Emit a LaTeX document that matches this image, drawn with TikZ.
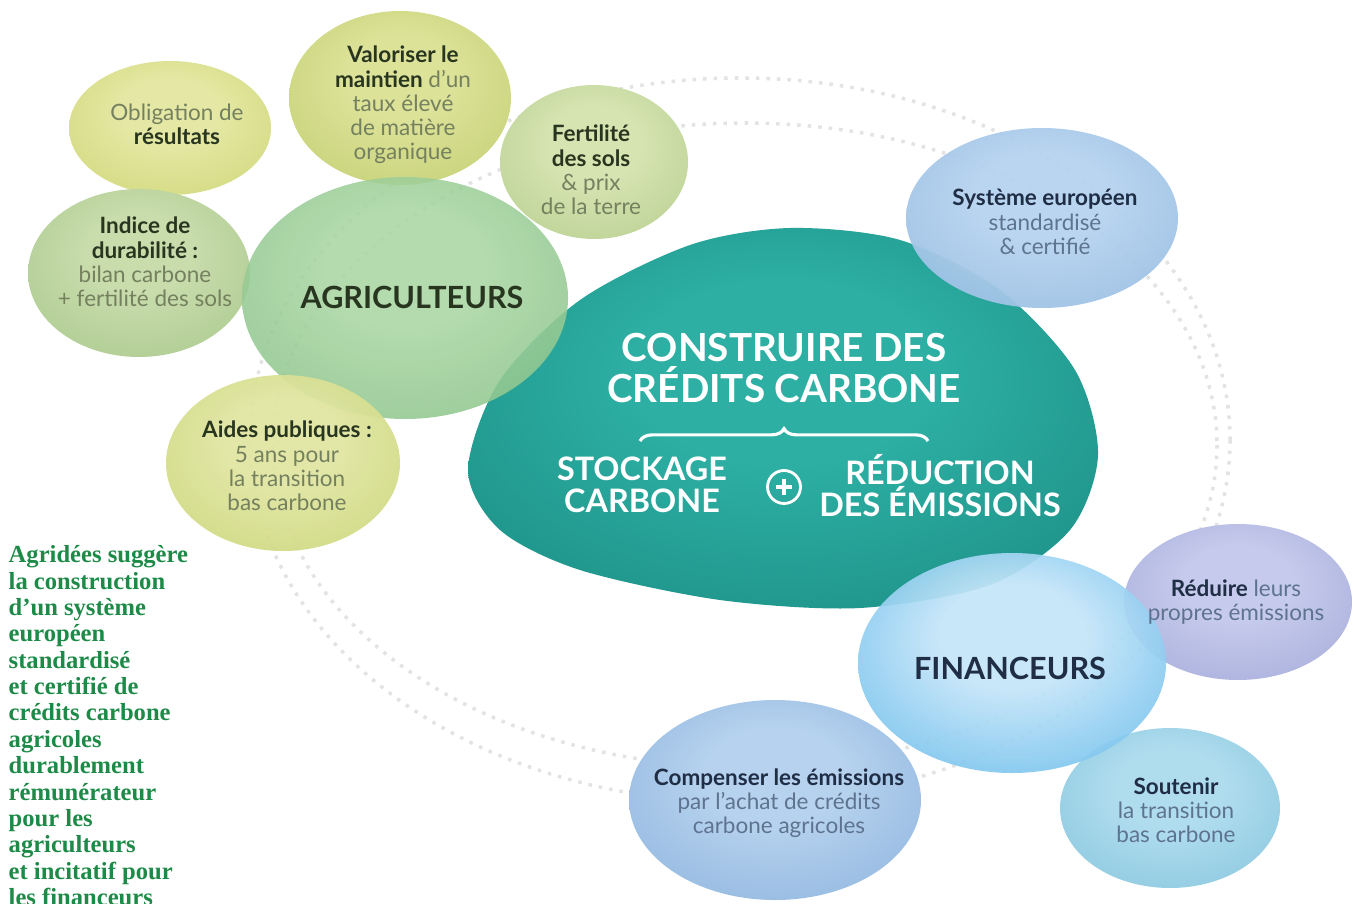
\documentclass[tikz,border=0pt]{standalone}
\usepackage{fontspec}
\setmainfont{Lato}
\newfontfamily\slabfont{Liberation Serif}
\usetikzlibrary{decorations.pathreplacing}

\definecolor{agtext}{HTML}{1E8A48}
\definecolor{darkgreen}{HTML}{28351F}
\definecolor{softgreen}{HTML}{74805E}
\definecolor{darkblue}{HTML}{1F2D45}
\definecolor{softblue}{HTML}{5E7390}

% soft radial light for the bubbles
\colorlet{bubin}{white}
\colorlet{bubout}{gray}
\pgfdeclareradialshading[bubin,bubout]{bubble}{\pgfpoint{0bp}{8bp}}{color(0bp)=(bubin); color(12bp)=(bubin); color(44bp)=(bubout); color(50bp)=(bubout)}

\tikzset{
    bubble/.style 2 args={/utils/exec={\definecolor{bubin}{HTML}{#1}\definecolor{bubout}{HTML}{#2}}, shading=bubble},
    orbit/.style={dotted, line width=1pt, gray!22},
    smalltext/.style={align=center, font=\fontsize{6.4}{6.9}\selectfont},
    greentext/.style={smalltext, text=softgreen},
    bluetext/.style={smalltext, text=softblue},
    bigtitle/.style={align=center, text=white, font=\bfseries\fontsize{11}{11.8}\selectfont},
    subtitle/.style={align=center, text=white, font=\bfseries\fontsize{9.2}{9.1}\selectfont},
    actor/.style={font=\bfseries\fontsize{8.7}{9}\selectfont}
}

\begin{document}
\begin{tikzpicture}[x=0.1mm, y=-0.1mm]
    \useasboundingbox (0,0) rectangle (1356,903);

    % dotted orbits behind the bubbles
    \draw[orbit] (740,440) ellipse (490 and 362);
    \draw[orbit] (745,445) ellipse (472 and 322);

    % green bubbles
    \shade[bubble={E4E8A4}{C9D26C}] (170,128) ellipse (101 and 67);
    \shade[bubble={DCE298}{BCCA68}] (400,98) ellipse (111 and 87);
    \shade[bubble={D6E4B2}{AEC986}] (594,162) ellipse (94 and 77);
    \shade[bubble={C8DCAC}{A2C386}] (139,273) ellipse (111 and 84);

    % central bubble
    \shade[bubble={2DAFA3}{16827A}]
        plot[smooth cycle] coordinates {(468,470) (500,380) (580,300) (690,245) (790,228) (900,240)
            (1000,290) (1075,370) (1098,455) (1070,530) (990,585) (860,608) (720,600) (580,570) (500,530)};

    \shade[bubble={B6D3EF}{8CB4DD}, opacity=0.95] (1042,218) ellipse (136 and 90);

    \shade[bubble={A9D6A2}{7DBA80}, opacity=0.88] (405,298) ellipse (163 and 121);
    \shade[bubble={E0E6A2}{C5D06E}, opacity=0.95] (283,463) ellipse (117 and 88);

    % blue bubbles
    \shade[bubble={C6CAEC}{9CA3D5}] (1238,602) ellipse (114 and 78);
    \shade[bubble={B0DDEE}{7CBFD9}] (1170,808) ellipse (110 and 80);
    \shade[bubble={B6D2EE}{82ABD9}] (775,800) ellipse (146 and 100);
    \shade[bubble={C4E5F8}{47ACE6}, opacity=0.93] (1012,663) ellipse (154 and 110);

    % texts of the bubbles
    \node[greentext] (oblig) at (177,124) {Obligation de\\\textcolor{darkgreen}{\bfseries résultats}};
    \node[greentext] (valor) at (403,105) {\textcolor{darkgreen}{\bfseries Valoriser le}\\\textcolor{darkgreen}{\bfseries maintien} d'un\\taux élevé\\de matière\\organique};
    \node[greentext] (fert) at (591,170) {\textcolor{darkgreen}{\bfseries Fertilité}\\\textcolor{darkgreen}{\bfseries des sols}\\\& prix\\de la terre};
    \node[greentext] (indice) at (145,262) {\textcolor{darkgreen}{\bfseries Indice de}\\\textcolor{darkgreen}{\bfseries durabilité :}\\bilan carbone\\+ fertilité des sols};
    \node[greentext] (aides) at (287,466) {\textcolor{darkgreen}{\bfseries Aides publiques :}\\5 ans pour\\la transition\\bas carbone};
    \node[actor, text=darkgreen] (agri) at (412,297) {AGRICULTEURS};

    \node[bluetext] (systeme) at (1045,222) {\textcolor{darkblue}{\bfseries Système européen}\\standardisé\\\& certifié};
    \node[bluetext] (reduire) at (1236,602) {\textcolor{darkblue}{\bfseries Réduire} leurs\\propres émissions};
    \node[bluetext] (compenser) at (779,803) {\textcolor{darkblue}{\bfseries Compenser les émissions}\\par l'achat de crédits\\carbone agricoles};
    \node[bluetext] (soutenir) at (1176,810) {\textcolor{darkblue}{\bfseries Soutenir}\\la transition\\bas carbone};
    \node[actor, text=darkblue] (financeurs) at (1010,668) {FINANCEURS};

    % centre
    \node[bigtitle] (titre) at (784,368) {CONSTRUIRE DES\\CRÉDITS CARBONE};
    \coordinate (braceL) at (640,441);
    \coordinate (braceR) at (928,441);
    \draw[white, line width=0.9pt, decorate, decoration={brace, amplitude=3.5pt}] (braceL) -- (braceR);
    \node[subtitle] (stockage) at (642,485) {STOCKAGE\\CARBONE};
    \node[draw=white, line width=0.8pt, circle, minimum size=3.3mm, inner sep=0pt] (plus) at (784,487) {};
    \draw[white, line width=0.9pt] ([xshift=-0.8mm]plus.center) -- ([xshift=0.8mm]plus.center);
    \draw[white, line width=0.9pt] ([yshift=-0.8mm]plus.center) -- ([yshift=0.8mm]plus.center);
    \node[subtitle] (reduction) at (940,486) {RÉDUCTION\\DES ÉMISSIONS};

    % side text
    \node[anchor=north west, align=left, inner sep=0pt, text=agtext,
          font=\slabfont\bfseries\fontsize{7}{7.5}\selectfont] (agridees) at (8,545)
        {Agridées suggère\\la construction\\d’un système\\européen\\standardisé\\et certifié de\\crédits carbone\\agricoles\\durablement\\rémunérateur\\pour les\\agriculteurs\\et incitatif pour\\les financeurs};
\end{tikzpicture}
\end{document}
